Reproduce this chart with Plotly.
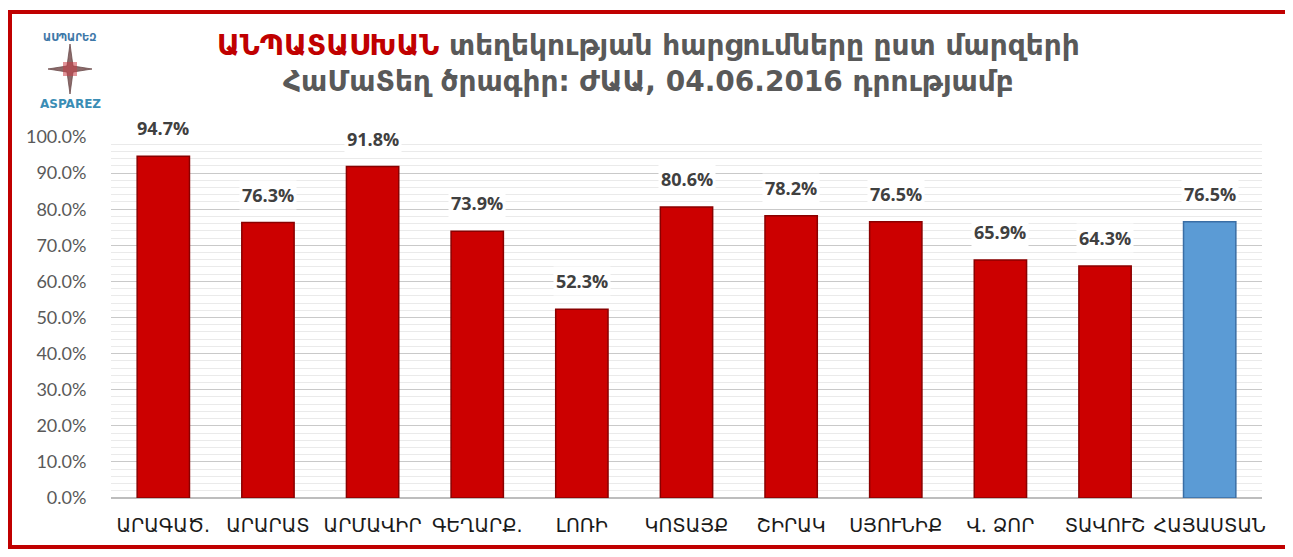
import plotly.graph_objects as go

categories = ["ԱՐԱԳԱԾ.", "ԱՐԱՐԱՏ", "ԱՐՄԱՎԻՐ", "ԳԵՂԱՐՔ.", "ԼՈՌԻ", "ԿՈՏԱՅՔ",
              "ՇԻՐԱԿ", "ՍՅՈՒՆԻՔ", "Վ. ՁՈՐ", "ՏԱՎՈՒՇ", "ՀԱՅԱՍՏԱՆ"]
values = [94.7, 76.3, 91.8, 73.9, 52.3, 80.6, 78.2, 76.5, 65.9, 64.3, 76.5]
y_ticks = [0, 10, 20, 30, 40, 50, 60, 70, 80, 90, 100]
y_tick_text = [f"{v:.1f}%" for v in y_ticks]
title_red = "ԱՆՊԱՏԱՍԽԱՆ"
title_rest = "տեղեկության հարցումները ըստ մարզերի"
title_line2 = "ՀաՄաՏեղ ծրագիր: ԺԱԱ, 04.06.2016 դրությամբ"

# page body has an 8px margin; work in screen pixels and shift
O = 8
W, H = 1293 - O, 557 - 2 * O
# target plot area in screen pixels
X0, X1, Y0, Y1 = 111, 1262, 137, 498
L, R, T, B = X0 - O, W - (X1 - O), Y0 - O, H - (Y1 - O)
PW, PH = W - L - R, H - T - B


def px(xs):
    return (xs - O - L) / PW


def py(ys):
    return (H - B - (ys - O)) / PH


bar_colors = ["#CC0000"] * (len(categories) - 1) + ["#5B9BD5"]
edge_colors = ["#8A0000"] * (len(categories) - 1) + ["#3A6EA5"]

fig = go.Figure()
fig.add_trace(go.Bar(
    x=categories, y=values,
    marker=dict(color=bar_colors, line=dict(color=edge_colors, width=1.5)),
    width=0.5, hoverinfo="skip",
))

annotations = []
for c, v in zip(categories, values):
    annotations.append(dict(
        x=c, y=v, xref="x", yref="y", text=f"<b>{v:.1f}%</b>",
        showarrow=False, xanchor="center", yanchor="bottom", yshift=13,
        font=dict(family="Open Sans, DejaVu Sans", size=18, color="#404040"),
        bgcolor="white", borderpad=2,
    ))

annotations.append(dict(
    x=px(648), y=py(64), xref="paper", yref="paper",
    text=(f"<b><span style='color:#C00000'>{title_red}</span> {title_rest}"
          f"<br>{title_line2}</b>"),
    showarrow=False, xanchor="center", yanchor="middle", align="center",
    font=dict(family="DejaVu Sans", size=28, color="#595959"),
))
annotations.append(dict(
    x=px(70), y=py(38), xref="paper", yref="paper", text="<b>ԱՍՊԱՐԵԶ</b>",
    showarrow=False, xanchor="center", yanchor="middle",
    font=dict(family="DejaVu Sans", size=10, color="#3E78A8"),
))
annotations.append(dict(
    x=px(70), y=py(104), xref="paper", yref="paper", text="<b>ASPAREZ</b>",
    showarrow=False, xanchor="center", yanchor="middle",
    font=dict(family="DejaVu Sans", size=12, color="#3A8DB5"),
))

shapes = [
    dict(type="rect", xref="paper", yref="paper",
         x0=px(O + 2), x1=px(1288), y0=py(O + H - 2), y1=py(12),
         line=dict(color="#C00000", width=4), layer="above"),
    dict(type="path", xref="paper", yref="paper",
         xsizemode="pixel", ysizemode="pixel", xanchor=px(70), yanchor=py(69),
         path="M 0 25 L 3 3 L 22 0 L 3 -3 L 0 -25 L -3 -3 L -22 0 L -3 3 Z",
         fillcolor="#8C6A6A", line=dict(color="#6B4B4B", width=0.8)),
    dict(type="path", xref="paper", yref="paper",
         xsizemode="pixel", ysizemode="pixel", xanchor=px(70), yanchor=py(69),
         path="M -7 -7 L 7 -7 L 7 7 L -7 7 Z",
         fillcolor="rgba(200,60,70,0.55)", line=dict(width=0)),
]

fig.update_layout(
    width=W, height=H,
    margin=dict(l=L, r=R, t=T, b=B, autoexpand=False),
    paper_bgcolor="white", plot_bgcolor="white",
    showlegend=False,
    annotations=annotations, shapes=shapes,
    xaxis=dict(
        type="category", showgrid=False, showline=False,
        ticks="outside", ticklen=10, tickcolor="rgba(0,0,0,0)",
        tickfont=dict(family="DejaVu Sans", size=19, color="#1a1a1a"),
        range=[-0.5, len(categories) - 0.5],
    ),
    yaxis=dict(
        range=[0, 100], tickvals=y_ticks, ticktext=y_tick_text,
        showgrid=True, gridcolor="#C9C9C9", gridwidth=1,
        zeroline=True, zerolinecolor="#BDBDBD", zerolinewidth=1.5,
        minor=dict(dtick=2, showgrid=True, gridcolor="#EAEAEA", gridwidth=1),
        ticks="outside", ticklen=20, tickcolor="rgba(0,0,0,0)",
        tickfont=dict(family="Lato, Open Sans", size=18, color="#595959"),
    ),
)

fig.write_html("out.html")
